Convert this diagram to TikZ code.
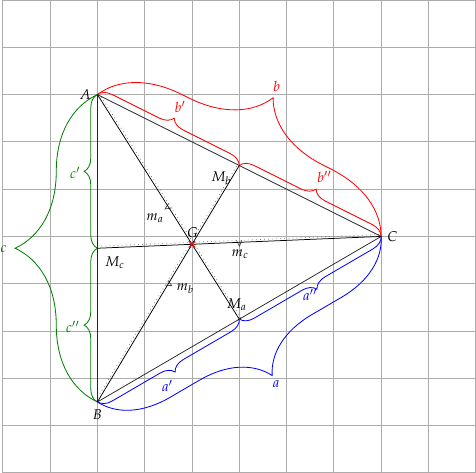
\documentclass[tikz,border=0pt]{standalone}
\usepackage{mathpazo}
\usetikzlibrary{decorations.pathreplacing,calc,shapes.misc}
\begin{document}
\begin{tikzpicture}[x=1cm,y=1cm, font=\fontsize{8.5}{10}\selectfont,
  gridline/.style={draw=gray!65, line width=0.5pt},
  side/.style={draw=black!85, line width=0.45pt},
  median/.style={draw=black, line width=0.45pt},
  medbr/.style={draw=black!55, dotted, line width=0.45pt},
  medtip/.style={draw=black!75, line width=0.4pt},
  smallbr/.style={decorate, decoration={brace, amplitude=8pt}, line width=0.5pt},
  bigbr/.style={decorate, decoration={brace, amplitude=#1}, line width=0.5pt},
  lbl/.style={inner sep=0pt},
  cgreen/.style={draw=green!50!black, text=green!50!black}]
\useasboundingbox (-0.06,0) rectangle (10.006,10);
\draw[gridline] (0,0) grid (10,10);
% points
\coordinate (A) at (2,8);
\coordinate (B) at (2,1.5);
\coordinate (C) at (8,5);
\coordinate (Ma) at (5,3.25);
\coordinate (Mb) at (5,6.5);
\coordinate (Mc) at (2,4.75);
\coordinate (G) at (4,4.83333);
% braces on sides
\draw[red, smallbr] (A) -- (Mb);
\draw[red, smallbr] (Mb) -- (C);
\draw[red, bigbr=1.6cm] (A) -- (C);
\draw[cgreen, smallbr] (Mc) -- (A);
\draw[cgreen, smallbr] (B) -- (Mc);
\draw[cgreen, bigbr=1.74cm] (B) -- (A);
\draw[blue, smallbr] (Ma) -- (B);
\draw[blue, smallbr] (C) -- (Ma);
\draw[blue, bigbr=1.38cm] (C) -- (B);
% median braces
\begin{scope}[shift={(A)}, rotate=-57.72]
  \draw[medbr] (0cm,1.2pt) -- (5.618cm,1.2pt);
  \draw[medtip] ({2.809cm-1.6pt},1.2pt) -- (2.809cm,-2.4pt) -- ({2.809cm+1.6pt},1.2pt);
\end{scope}
\begin{scope}[shift={(B)}, rotate=59.036]
  \draw[medbr] (0cm,1.2pt) -- (5.831cm,1.2pt);
  \draw[medtip] ({2.9155cm-1.6pt},1.2pt) -- (2.9155cm,-2.4pt) -- ({2.9155cm+1.6pt},1.2pt);
\end{scope}
\begin{scope}[shift={(Mc)}, rotate=2.386]
  \draw[medbr] (0cm,1.2pt) -- (6.0052cm,1.2pt);
  \draw[medtip] ({3.0026cm-1.6pt},1.2pt) -- (3.0026cm,-2.4pt) -- ({3.0026cm+1.6pt},1.2pt);
\end{scope}
% triangle and medians
\draw[side] (A) -- (B) -- (C) -- cycle;
\draw[median] (A) -- (Ma);
\draw[median] (B) -- (Mb);
\draw[median] (C) -- (Mc);
\node[draw=red, cross out, minimum size=3.2pt, inner sep=0pt, line width=0.6pt] (Gx) at (G) {};
% labels
\node[lbl] (lA) at (1.74,8.01) {$A$};
\node[lbl] (lB) at (2.0,1.24) {$B$};
\node[lbl] (lC) at (8.24,4.99) {$C$};
\node[lbl] (lG) at (4.01,5.07) {$G$};
\node[lbl] (lMa) at (4.95,3.56) {$M_a$};
\node[lbl] (lMb) at (4.62,6.23) {$M_b$};
\node[lbl] (lMc) at (2.37,4.45) {$M_c$};
\node[lbl] (lma) at (3.22,5.38) {$m_a$};
\node[lbl] (lmb) at (3.86,3.90) {$m_b$};
\node[lbl] (lmc) at (5.02,4.62) {$m_c$};
\node[lbl, text=red] (lb1) at (3.75,7.74) {$b'$};
\node[lbl, text=red] (lb2) at (6.80,6.25) {$b''$};
\node[lbl, text=red] (lb) at (5.79,8.18) {$b$};
\node[lbl, text=green!50!black] (lc1) at (1.53,6.34) {$c'$};
\node[lbl, text=green!50!black] (lc2) at (1.48,3.09) {$c''$};
\node[lbl, text=green!50!black, anchor=west] (lc) at (-0.06,4.74) {$c$};
\node[lbl, text=blue] (la1) at (3.48,1.83) {$a'$};
\node[lbl, text=blue] (la2) at (6.50,3.77) {$a''$};
\node[lbl, text=blue] (la) at (5.78,1.87) {$a$};
\end{tikzpicture}
\end{document}
